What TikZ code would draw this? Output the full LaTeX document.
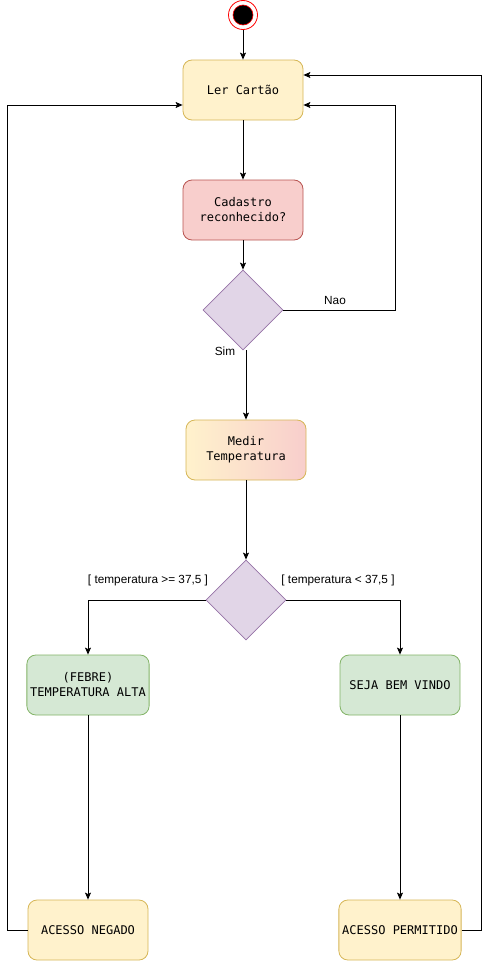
\documentclass[tikz,border=0pt]{standalone}
\usepackage{fontspec}
\setmainfont{Liberation Sans}
\newfontfamily\boxfont{DejaVu Sans Mono}
\usetikzlibrary{shapes.geometric,arrows.meta}
\definecolor{ylfill}{HTML}{FFF2CC}
\definecolor{yldraw}{HTML}{D6B656}
\definecolor{rdfill}{HTML}{F8CECC}
\definecolor{rddraw}{HTML}{B85450}
\definecolor{grfill}{HTML}{D5E8D4}
\definecolor{grdraw}{HTML}{82B366}
\definecolor{pufill}{HTML}{E1D5E7}
\definecolor{pudraw}{HTML}{9673A6}
\definecolor{stred}{HTML}{FF0000}
\tikzset{
    boxsty/.style={rectangle,rounded corners=9pt,minimum width=120pt,minimum height=60pt,align=center,line width=0.8pt,font=\boxfont\fontsize{12}{15}\selectfont},
    ylsty/.style={boxsty,fill=ylfill,draw=yldraw},
    rdsty/.style={boxsty,fill=rdfill,draw=rddraw},
    grsty/.style={boxsty,fill=grfill,draw=grdraw},
    gdsty/.style={boxsty,left color=ylfill,right color=rdfill,draw=yldraw},
    decsty/.style={diamond,aspect=1,minimum size=80pt,inner sep=0pt,fill=pufill,draw=pudraw,line width=0.8pt},
    startsty/.style={circle,minimum size=29pt,inner sep=0pt,draw=stred,fill=white,line width=0.8pt},
    lblsty/.style={font=\fontsize{11.8}{14}\selectfont},
    arrsty/.style={line width=0.9pt,-{Stealth[length=7pt,width=6pt,inset=1.5pt]}},
}

\begin{document}
\begin{tikzpicture}[x=1pt,y=-1pt]
\useasboundingbox (0,0) rectangle (489,961);
% nodes
\node[startsty] (st) at (243,15) {};
\fill[black,draw=stred,line width=0.6pt] (st.center) circle (10pt);
\node[ylsty] (ler) at (243,90) {Ler Cartão};
\node[rdsty] (cad) at (243,210) {Cadastro\\reconhecido?};
\node[decsty] (d1) at (243,310) {};
\node[gdsty] (med) at (246,450) {Medir\\Temperatura};
\node[decsty] (d2) at (246,600) {};
\node[grsty] (feb) at (88,685) {(FEBRE)\\TEMPERATURA ALTA};
\node[grsty] (seja) at (400,685) {SEJA BEM VINDO};
\node[ylsty] (neg) at (88,930) {ACESSO NEGADO};
\node[ylsty] (perm) at (400,930) {ACESSO PERMITIDO};
% labels
\node[lblsty] (nao) at (335,300) {Nao};
\node[lblsty] (sim) at (225,351) {Sim};
\node[lblsty] (talta) at (148,580) {[ temperatura >= 37,5 ]};
\node[lblsty] (tbaixa) at (338,580) {[ temperatura < 37,5 ]};
% connectors
\coordinate (naoc) at (395,105);
\draw[arrsty] (st) -- (ler);
\draw[arrsty] (ler) -- (cad);
\draw[arrsty] (cad) -- (d1);
\draw[arrsty] (d1.east) -| (naoc) -- ([yshift=-15pt]ler.east);
\draw[arrsty] (d1.south -| med.north) -- (med.north);
\draw[arrsty] (med) -- (d2);
\draw[arrsty] (d2.west) -| (feb.north);
\draw[arrsty] (d2.east) -| (seja.north);
\draw[arrsty] (feb) -- (neg);
\draw[arrsty] (seja) -- (perm);
\draw[arrsty] (neg.west) -- ++(-20,0) |- ([yshift=-15pt]ler.west);
\draw[arrsty] (perm.east) -- ++(20,0) |- ([yshift=15pt]ler.east);
\end{tikzpicture}
\end{document}
